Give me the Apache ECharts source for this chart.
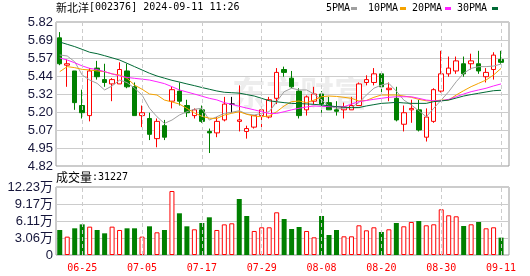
<!DOCTYPE html>
<html>
<head>
<meta charset="utf-8">
<script src="https://cdn.jsdelivr.net/npm/echarts@6/dist/echarts.min.js"></script>
<style>html,body{margin:0;padding:0;background:#fff;}#c{width:530px;height:276px;}</style>
</head>
<body>
<div id="c"></div>
<script>
const dates = ['06-20','06-21','06-24','06-25','06-26','06-27','06-28','07-01','07-02','07-03','07-04','07-05',
'07-08','07-09','07-10','07-11','07-12','07-15','07-16','07-17','07-18','07-19','07-22','07-23','07-24','07-25','07-26',
'07-29','07-30','07-31','08-01','08-02','08-05','08-06','08-07','08-08','08-09','08-12','08-13','08-14','08-15','08-16',
'08-19','08-20','08-21','08-22','08-23','08-26','08-27','08-28','08-29','08-30','09-02','09-03','09-04','09-05','09-06',
'09-09','09-10','09-11'];
const openP  = [5.71,5.52,5.48,5.24,5.17,5.50,5.42,5.39,5.39,5.48,5.37,5.17,5.15,5.01,5.10,5.27,5.34,5.24,5.17,5.21,
5.06,5.05,5.14,5.25,5.13,5.06,5.09,5.17,5.16,5.29,5.49,5.43,5.34,5.21,5.27,5.32,5.26,5.21,5.21,5.21,
5.24,5.40,5.40,5.46,5.35,5.29,5.11,5.21,5.21,5.02,5.13,5.34,5.46,5.48,5.53,5.53,5.53,5.44,5.49,5.56];
const closeP = [5.53,5.53,5.26,5.19,5.48,5.44,5.40,5.42,5.49,5.37,5.17,5.19,5.04,5.13,5.02,5.35,5.27,5.19,5.21,5.13,
5.05,5.13,5.25,5.25,5.14,5.08,5.17,5.21,5.28,5.47,5.47,5.37,5.17,5.30,5.32,5.25,5.21,5.20,5.23,5.24,
5.39,5.42,5.46,5.37,5.36,5.14,5.19,5.22,5.07,5.16,5.35,5.46,5.50,5.55,5.46,5.55,5.48,5.47,5.59,5.54];
const lowP   = [5.52,5.37,5.21,5.15,5.13,5.42,5.37,5.27,5.39,5.36,5.17,5.09,5.00,4.95,5.00,5.22,5.24,5.16,5.15,5.12,
4.91,5.02,5.13,5.19,5.06,5.01,5.08,5.09,5.15,5.25,5.44,5.36,5.15,5.17,5.25,5.19,5.21,5.17,5.15,5.21,
5.24,5.38,5.38,5.32,5.27,5.13,5.06,5.12,5.06,4.99,5.12,5.33,5.44,5.46,5.44,5.49,5.46,5.40,5.42,5.53];
const highP  = [5.75,5.56,5.48,5.35,5.50,5.55,5.53,5.43,5.54,5.53,5.40,5.24,5.19,5.15,5.14,5.37,5.40,5.28,5.22,5.24,
5.08,5.16,5.30,5.30,5.38,5.10,5.17,5.23,5.30,5.50,5.51,5.48,5.36,5.31,5.37,5.34,5.30,5.27,5.26,5.30,
5.40,5.45,5.50,5.47,5.40,5.37,5.24,5.28,5.28,5.22,5.36,5.62,5.58,5.58,5.58,5.60,5.62,5.50,5.61,5.62];
const ma5  = [5.591,5.584,5.544,5.452,5.417,5.394,5.348,5.376,5.417,5.399,5.360,5.313,5.221,5.162,5.116,5.139,5.174,5.197,5.214,5.221,
5.139,5.162,5.186,5.193,5.204,5.181,5.174,5.186,5.197,5.267,5.336,5.360,5.348,5.348,5.320,5.278,5.237,5.221,5.221,5.228,
5.260,5.313,5.360,5.382,5.394,5.340,5.278,5.244,5.204,5.162,5.221,5.278,5.336,5.405,5.464,5.498,5.510,5.510,5.514,5.528];
const ma10 = [5.475,5.510,5.503,5.491,5.487,5.480,5.475,5.459,5.452,5.429,5.382,5.353,5.320,5.313,5.278,5.265,5.250,5.220,5.190,5.165,
5.152,5.150,5.174,5.186,5.197,5.179,5.167,5.162,5.167,5.197,5.237,5.267,5.271,5.260,5.278,5.301,5.306,5.303,5.297,5.290,
5.271,5.275,5.297,5.313,5.313,5.313,5.306,5.297,5.283,5.273,5.271,5.278,5.278,5.313,5.343,5.371,5.394,5.417,5.452,5.498];
const ma20 = [5.570,5.556,5.537,5.515,5.498,5.490,5.475,5.460,5.445,5.435,5.429,5.423,5.417,5.405,5.392,5.371,5.348,5.334,5.320,5.305,
5.290,5.279,5.260,5.248,5.235,5.222,5.210,5.197,5.185,5.185,5.197,5.210,5.221,5.230,5.237,5.234,5.232,5.232,5.232,5.250,
5.267,5.275,5.283,5.290,5.297,5.301,5.301,5.301,5.290,5.278,5.273,5.273,5.283,5.301,5.320,5.336,5.348,5.360,5.376,5.390];
const ma30 = [5.681,5.665,5.649,5.630,5.610,5.600,5.586,5.571,5.556,5.533,5.510,5.487,5.464,5.445,5.430,5.415,5.403,5.390,5.378,5.365,
5.353,5.341,5.332,5.329,5.326,5.316,5.306,5.290,5.273,5.266,5.260,5.255,5.253,5.251,5.248,5.244,5.238,5.232,5.228,5.225,
5.226,5.237,5.246,5.255,5.258,5.262,5.258,5.255,5.255,5.255,5.267,5.272,5.278,5.292,5.306,5.316,5.325,5.334,5.343,5.346];
const volume = [45000,33000,48000,55100,51000,45000,39000,51000,45000,48000,48000,33000,51600,40800,45000,115100,75000,51600,46200,57600,
67800,45000,55100,57000,100700,70100,43200,49800,49800,76800,64700,46800,50400,43200,31800,70100,36000,45000,33600,33600,
53400,44400,49800,41400,46200,57600,51600,59400,61100,53400,55200,82200,71400,69600,52200,55200,59400,48000,49800,31227];
const volUp = [0,1,0,0,1,0,0,1,1,0,0,1,0,1,0,1,0,0,1,0,0,1,1,1,0,0,1,1,1,1,0,0,0,1,1,0,0,0,1,1,1,1,1,0,1,0,1,1,0,1,1,1,1,1,0,1,0,1,1,0];
const priceTickLabels = ['4.82','4.95','5.07','5.20','5.32','5.44','5.57','5.69','5.82'];
const volTickLabels = ['0','3.06万','6.11万','9.17万','12.23万'];
const markDates = ['06-25','07-05','07-17','07-29','08-08','08-20','08-30','09-11'];
const volMax = 122300;
const lastVolume = 31227;

const RED = '#ff0000', GREEN = '#008000';
const mono = '"DejaVu Sans Mono", "Liberation Mono", monospace';
const cjk = '"Noto Sans CJK SC", sans-serif';
const labelFont = '"Liberation Sans", "Noto Sans CJK SC", sans-serif';

const chart = echarts.init(document.getElementById('c'), null, {renderer: 'canvas'});
const slotW = 448.8;

const vLines = {
  silent: true, symbol: ['none', 'none'], label: {show: false}, animation: false,
  lineStyle: {color: '#cccccc', type: [4, 3], width: 1},
  emphasis: {disabled: true},
  data: markDates.map(d => ({xAxis: d}))
};

const option = {
  animation: false,
  backgroundColor: '#fff',
  grid: [
    {left: 56, top: 22, width: 453, height: 144, show: true, borderColor: '#999', borderWidth: 1, backgroundColor: 'transparent'},
    {left: 56, top: 22, width: slotW, height: 144},
    {left: 56, top: 187, width: 453, height: 68, show: true, borderColor: '#999', borderWidth: 1, backgroundColor: 'transparent'},
    {left: 56, top: 187, width: slotW, height: 68}
  ],
  xAxis: [
    {gridIndex: 0, type: 'value', min: 0, max: 1, show: false},
    {gridIndex: 1, type: 'category', data: dates, boundaryGap: true, axisLine: {show: false}, axisTick: {show: false}, axisLabel: {show: false}, splitLine: {show: false}},
    {gridIndex: 2, type: 'value', min: 0, max: 1, show: false},
    {gridIndex: 3, type: 'category', data: dates, boundaryGap: true, axisLine: {show: false}, axisTick: {show: false}, splitLine: {show: false},
      axisLabel: {show: true, interval: (i) => (i - 3) % 8 === 0, color: RED, fontFamily: mono, fontSize: 10, margin: 8, hideOverlap: false}}
  ],
  yAxis: [
    {gridIndex: 0, type: 'value', min: 0, max: 8, interval: 1,
      axisLine: {show: false}, axisTick: {show: false},
      splitLine: {show: true, lineStyle: {color: '#cccccc', width: 1}},
      axisLabel: {formatter: (v) => priceTickLabels[Math.round(v)], color: '#15153a', fontFamily: labelFont, fontSize: 13, margin: 3}},
    {gridIndex: 1, type: 'value', min: 4.82, max: 5.82, show: false},
    {gridIndex: 2, type: 'value', min: 0, max: 4, interval: 1,
      axisLine: {show: false}, axisTick: {show: false},
      splitLine: {show: true, lineStyle: {color: '#cccccc', width: 1}},
      axisLabel: {formatter: (v) => volTickLabels[Math.round(v)], color: '#15153a', fontFamily: labelFont, fontSize: 13, margin: 3}},
    {gridIndex: 3, type: 'value', min: 0, max: volMax, show: false}
  ],
  graphic: [
    {type: 'text', left: 232, top: 76, z: 0, silent: true,
      style: {text: '东方财富', fill: '#ededed', font: 'bold 34px "Noto Sans CJK SC"'}},
    {type: 'text', left: 56, top: 2, silent: true,
      style: {text: '{c|新北洋}{a|[002376] 2024-09-11 11:26}', rich: {
        c: {fontFamily: cjk, fontSize: 11, fill: '#000'},
        a: {fontFamily: mono, fontSize: 10, fill: '#000'}}}},
    {type: 'text', left: 56, top: 171, silent: true,
      style: {text: '{c|成交量}{a|:' + lastVolume + '}', rich: {
        c: {fontFamily: cjk, fontSize: 12, fill: '#000'},
        a: {fontFamily: mono, fontSize: 10, fill: '#000'}}}},
    {type: 'text', left: 326, top: 3, silent: true, style: {text: '5PMA', fontFamily: mono, fontSize: 10, fill: '#000'}},
    {type: 'rect', left: 351, top: 7, silent: true, shape: {width: 6, height: 3}, style: {fill: '#a0a0a0'}},
    {type: 'text', left: 368, top: 3, silent: true, style: {text: '10PMA', fontFamily: mono, fontSize: 10, fill: '#000'}},
    {type: 'rect', left: 400, top: 7, silent: true, shape: {width: 6, height: 3}, style: {fill: '#f5a300'}},
    {type: 'text', left: 412, top: 3, silent: true, style: {text: '20PMA', fontFamily: mono, fontSize: 10, fill: '#000'}},
    {type: 'rect', left: 445, top: 7, silent: true, shape: {width: 6, height: 3}, style: {fill: '#ff22ff'}},
    {type: 'text', left: 457, top: 3, silent: true, style: {text: '30PMA', fontFamily: mono, fontSize: 10, fill: '#000'}},
    {type: 'rect', left: 492, top: 7, silent: true, shape: {width: 6, height: 3}, style: {fill: '#006a35'}}
  ],
  series: [
    {type: 'candlestick', xAxisIndex: 1, yAxisIndex: 1, barWidth: 5,
      data: dates.map((d, i) => [openP[i], closeP[i], lowP[i], highP[i]]),
      itemStyle: {color: '#ffffff', color0: GREEN, borderColor: RED, borderColor0: GREEN, borderColorDoji: '#000000', borderWidth: 1},
      markLine: vLines, z: 3},
    {type: 'line', xAxisIndex: 1, yAxisIndex: 1, data: ma5, showSymbol: false, symbol: 'none', lineStyle: {color: '#a0a0a0', width: 1}, z: 4},
    {type: 'line', xAxisIndex: 1, yAxisIndex: 1, data: ma10, showSymbol: false, symbol: 'none', lineStyle: {color: '#f5a300', width: 1}, z: 4},
    {type: 'line', xAxisIndex: 1, yAxisIndex: 1, data: ma20, showSymbol: false, symbol: 'none', lineStyle: {color: '#ff22ff', width: 1}, z: 4},
    {type: 'line', xAxisIndex: 1, yAxisIndex: 1, data: ma30, showSymbol: false, symbol: 'none', lineStyle: {color: '#006a35', width: 1}, z: 4},
    {type: 'bar', xAxisIndex: 3, yAxisIndex: 3, barWidth: 5, z: 3,
      data: volume.map((v, i) => ({value: v, itemStyle: volUp[i]
        ? {color: '#ffffff', borderColor: RED, borderWidth: 1}
        : {color: GREEN, borderColor: GREEN, borderWidth: 0}})),
      markLine: vLines}
  ]
};
chart.setOption(option);
</script>
</body>
</html>
